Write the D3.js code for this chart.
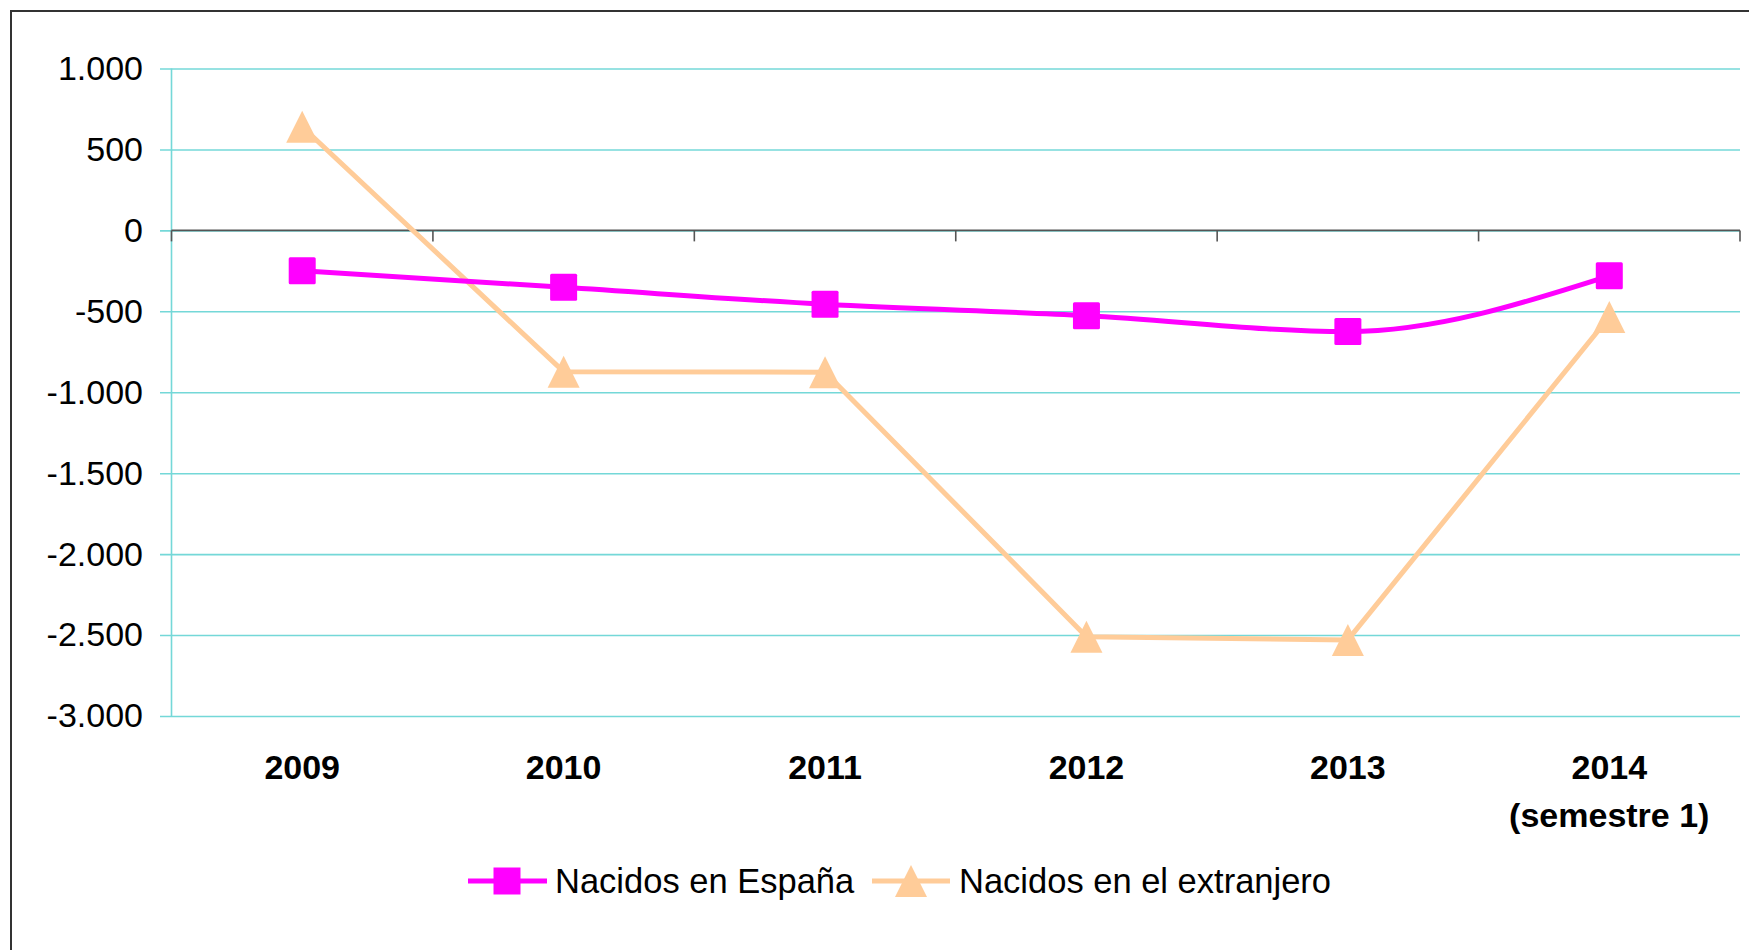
<!DOCTYPE html>
<html>
<head>
<meta charset="utf-8">
<script src="https://cdn.jsdelivr.net/npm/d3@7"></script>
<style>
  html, body { margin: 0; padding: 0; background: #ffffff; }
  svg { display: block; }
</style>
</head>
<body>
<svg width="1749" height="950"></svg>
<script>
const width = 1749;
const height = 950;

const plotLeft = 171.5, plotRight = 1740;
const plotTop = 68.5, plotBottom = 716;

// data
const years = ["2009", "2010", "2011", "2012", "2013", "2014"];
const yearLabels = [["2009"], ["2010"], ["2011"], ["2012"], ["2013"], ["2014", "(semestre 1)"]];
const nacidosEspana = [-250, -352, -457, -527, -625, -281];
const nacidosExtranjero = [640, -873, -876, -2510, -2530, -535];
const yTicks = [1000, 500, 0, -500, -1000, -1500, -2000, -2500, -3000];
const seriesNames = ["Nacidos en España", "Nacidos en el extranjero"];

const colorEspana = "#ff00ff";
const colorExtranjero = "#ffcc99";
const gridColor = "#74d8d8";

const esLocale = d3.formatLocale({decimal: ",", thousands: ".", grouping: [3], currency: ["", " €"], minus: "-"});
const fmt = esLocale.format(",d");

const svg = d3.select("svg");

// outer frame (runs off the right / bottom edge)
svg.append("rect")
    .attr("x", 11)
    .attr("y", 11)
    .attr("width", width + 20)
    .attr("height", height + 20)
    .attr("fill", "white")
    .attr("stroke", "#333")
    .attr("stroke-width", 2);

const x = d3.scaleBand()
    .domain(years)
    .range([plotLeft, plotRight]);

const y = d3.scaleLinear()
    .domain([-3000, 1000])
    .range([plotBottom, plotTop]);

// Y axis with gridlines
const gy = svg.append("g")
    .attr("transform", `translate(160, 0)`)
    .call(d3.axisLeft(y)
        .tickValues(yTicks)
        .tickFormat(fmt)
        .tickSize(-(plotRight - 160))
        .tickPadding(17));
gy.select(".domain").remove();
gy.selectAll(".tick line")
    .attr("stroke", gridColor)
    .attr("stroke-width", 1.6);
gy.selectAll(".tick text")
    .attr("fill", "#000")
    .style("font-family", "Liberation Sans, Arial, sans-serif")
    .style("font-size", "34px");

// left vertical axis line
svg.append("line")
    .attr("x1", plotLeft)
    .attr("x2", plotLeft)
    .attr("y1", y(1000))
    .attr("y2", y(-3000))
    .attr("stroke", gridColor)
    .attr("stroke-width", 1.6);

// zero line with category ticks
svg.append("line")
    .attr("x1", plotLeft)
    .attr("x2", plotRight)
    .attr("y1", y(0))
    .attr("y2", y(0))
    .attr("stroke", "#555")
    .attr("stroke-width", 1.6);

const boundaries = years.map(d => x(d)).concat([plotRight]);
svg.append("g")
    .selectAll("line")
    .data(boundaries)
    .join("line")
        .attr("x1", d => d)
        .attr("x2", d => d)
        .attr("y1", y(0))
        .attr("y2", y(0) + 11)
        .attr("stroke", "#555")
        .attr("stroke-width", 1.6);

// category labels below the plot
svg.append("g")
    .selectAll("text")
    .data(years)
    .join("text")
        .attr("x", d => x(d) + x.bandwidth() / 2)
        .attr("y", 779)
        .attr("text-anchor", "middle")
        .style("font-family", "Liberation Sans, Arial, sans-serif")
        .style("font-size", "34px")
        .style("font-weight", "bold")
        .each(function(d, i) {
            d3.select(this).selectAll("tspan")
                .data(yearLabels[i])
                .join("tspan")
                    .attr("x", x(d) + x.bandwidth() / 2)
                    .attr("dy", (t, j) => j == 0 ? 0 : 48)
                    .text(t => t);
        });

const cx = (d, i) => x(years[i]) + x.bandwidth() / 2;

// Nacidos en el extranjero line
svg.append("path")
    .datum(nacidosExtranjero)
    .attr("fill", "none")
    .attr("stroke", colorExtranjero)
    .attr("stroke-width", 5)
    .attr("stroke-linejoin", "round")
    .attr("d", d3.line().x(cx).y(d => y(d)));

// Nacidos en España line (smoothed)
svg.append("path")
    .datum(nacidosEspana)
    .attr("fill", "none")
    .attr("stroke", colorEspana)
    .attr("stroke-width", 5)
    .attr("d", d3.line().x(cx).y(d => y(d)).curve(d3.curveMonotoneX));

// square markers
const sq = 27;
svg.append("g")
    .selectAll("rect")
    .data(nacidosEspana)
    .join("rect")
        .attr("x", (d, i) => cx(d, i) - sq / 2)
        .attr("y", d => y(d) - sq / 2)
        .attr("width", sq)
        .attr("height", sq)
        .attr("rx", 1.5)
        .attr("fill", colorEspana);

// triangle markers
const tri = 32;
const triPath = `M0,${-tri / 2}L${tri / 2},${tri / 2}L${-tri / 2},${tri / 2}Z`;
svg.append("g")
    .selectAll("path")
    .data(nacidosExtranjero)
    .join("path")
        .attr("d", triPath)
        .attr("transform", (d, i) => `translate(${cx(d, i)}, ${y(d)})`)
        .attr("fill", colorExtranjero);

// Legend
const legendY = 881;
const legend = svg.append("g");

legend.append("line")
    .attr("x1", 468).attr("x2", 547)
    .attr("y1", legendY).attr("y2", legendY)
    .attr("stroke", colorEspana)
    .attr("stroke-width", 5);
legend.append("rect")
    .attr("x", 507 - sq / 2)
    .attr("y", legendY - sq / 2)
    .attr("width", sq)
    .attr("height", sq)
    .attr("fill", colorEspana);
legend.append("text")
    .attr("x", 555)
    .attr("y", legendY + 12)
    .style("font-family", "Liberation Sans, Arial, sans-serif")
    .style("font-size", "34.5px")
    .text(seriesNames[0]);

legend.append("line")
    .attr("x1", 872).attr("x2", 950)
    .attr("y1", legendY).attr("y2", legendY)
    .attr("stroke", colorExtranjero)
    .attr("stroke-width", 5);
legend.append("path")
    .attr("d", triPath)
    .attr("transform", `translate(911, ${legendY})`)
    .attr("fill", colorExtranjero);
legend.append("text")
    .attr("x", 959)
    .attr("y", legendY + 12)
    .style("font-family", "Liberation Sans, Arial, sans-serif")
    .style("font-size", "34.5px")
    .text(seriesNames[1]);
</script>
</body>
</html>
